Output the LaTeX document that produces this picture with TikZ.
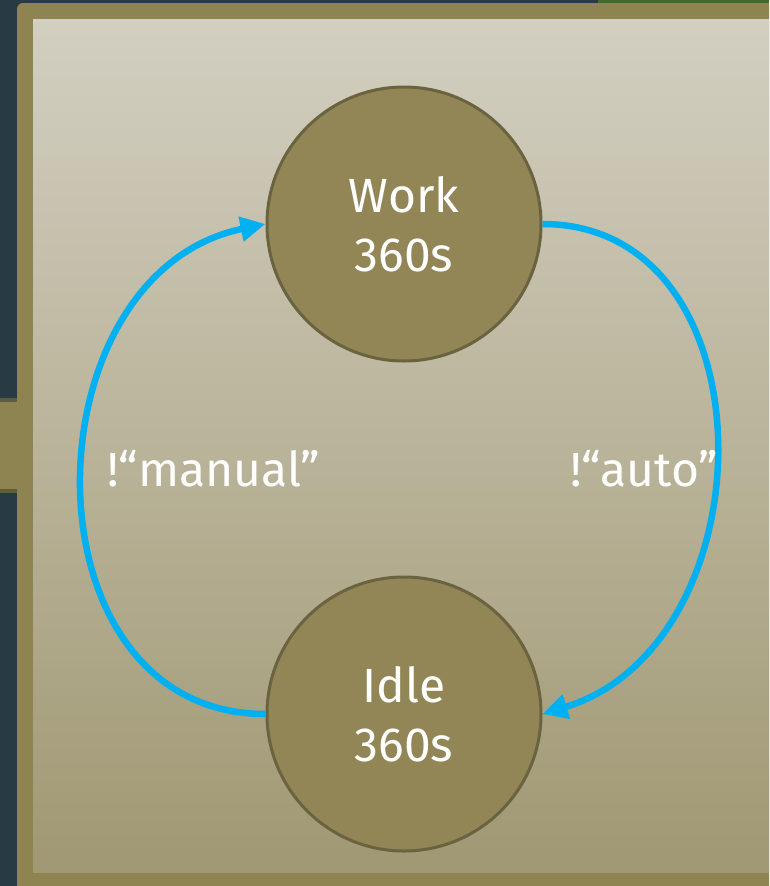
\documentclass[tikz,border=0pt]{standalone}
\usepackage{fontspec}
\setmainfont{Fira Sans}
\usepackage{tikz}
\usetikzlibrary{positioning, arrows.meta}

\definecolor{slate}{HTML}{283A44}
\definecolor{leaf}{HTML}{3E6A2B}
\definecolor{olive}{HTML}{8E8452}
\definecolor{tabshade}{HTML}{5E5B40}
\definecolor{paneltop}{HTML}{D3CFC1}
\definecolor{panelbottom}{HTML}{A09873}
\definecolor{statefill}{HTML}{928656}
\definecolor{stateedge}{HTML}{6A6340}
\definecolor{flowblue}{HTML}{00B0F0}

\begin{document}
\begin{tikzpicture}[
        x=1pt, y=-1pt,
        node distance=213pt,
        statenode/.style={
            circle,
            draw=stateedge,
            line width=3pt,
            fill=statefill,
            minimum size=274pt,
            inner sep=0pt,
            align=center,
            text=white,
            font=\fontsize{48}{59}\selectfont
        },
        flow/.style={-{Triangle[length=25pt, width=24pt]}, line width=6.5pt, draw=flowblue},
        flowlabel/.style={inner sep=0pt, text=white, font=\fontsize{48}{59}\selectfont}
    ]

    % --- Backdrop ---
    \useasboundingbox (0,0) rectangle (769,886);
    \clip (0,0) rectangle (769,886);
    \fill[slate] (0,0) rectangle (769,886);
    \fill[leaf] (598,0) rectangle (769,3);
    \fill[olive] (0,398) rectangle (20,493);
    \fill[tabshade] (0,398) rectangle (17,402);
    \fill[tabshade] (0,489) rectangle (17,493);
    \fill[olive, rounded corners=6pt] (17,3) rectangle (790,906);
    \shade[top color=paneltop, bottom color=panelbottom] (33,19) rectangle (769,872);

    % --- Nodes ---
    \node[statenode] (work) at (404,224) {Work\\360s};
    \node[statenode, below=of work] (idle) {Idle\\360s};

    % --- Arrows ---
    \draw[flow] (idle.west) .. controls +(-246,0) and +(-241,50) .. (work.west)
        node[flowlabel, pos=.5, anchor=west, xshift=21pt, yshift=19pt] {!“manual”};
    \draw[flow] (work.east) .. controls +(232,0) and +(229,-70) .. (idle.east)
        node[flowlabel, pos=.5, anchor=east, xshift=6pt, yshift=-26pt] {!“auto”};

    \end{tikzpicture}
\end{document}
